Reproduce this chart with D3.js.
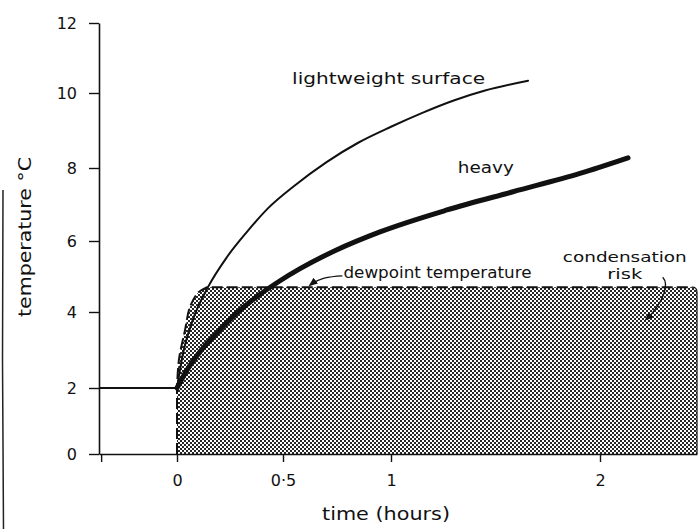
<!DOCTYPE html>
<html>
<head>
<meta charset="utf-8">
<script src="https://cdn.jsdelivr.net/npm/d3@7"></script>
<style>
  html, body { margin: 0; padding: 0; background: #fff; }
  svg { display: block; }
  text { font-family: "DejaVu Sans", "Liberation Sans", sans-serif; fill: #111; }
</style>
</head>
<body>
<svg id="chart" width="699" height="529"></svg>
<script>
// ---- data ----
const timeTicks = [0, 0.5, 1, 2];
const timeTickLabels = ["0", "0·5", "1", "2"];
const tempTicks = [0, 2, 4, 6, 8, 10, 12];
const tempTickLabels = ["0", "2", "4", "6", "8", "10", "12"];

// steady state before the change (time < 0)
const preTime = [-0.368, 0];
const preTemp = [2, 2];

// lightweight surface
const lightTime = [0, 0.028, 0.075, 0.146, 0.236, 0.33, 0.43, 0.55, 0.70, 0.85, 1.0, 1.15, 1.3, 1.45, 1.656];
const lightTemp = [2, 2.9, 3.8, 4.7, 5.55, 6.25, 6.9, 7.5, 8.15, 8.68, 9.1, 9.47, 9.8, 10.07, 10.35];

// heavy surface
const heavyTime = [0, 0.047, 0.108, 0.189, 0.264, 0.344, 0.486, 0.579, 0.745, 0.949, 1.268, 1.584, 1.904, 2.134];
const heavyTemp = [2, 2.47, 2.95, 3.45, 3.88, 4.28, 4.88, 5.22, 5.74, 6.25, 6.85, 7.35, 7.85, 8.27];

// dewpoint temperature and the left edge of the condensation-risk zone
const dewpoint = 4.70;
const dewEdgeTime = [0, 0.009, 0.038, 0.061, 0.099, 0.142];
const dewEdgeTemp = [2, 2.74, 3.53, 4.14, 4.54, 4.70];

const timeMin = -0.368, timeMax = 2.464;

// ---- scales (hand-drawn axis: piecewise linear through tick positions) ----
const x = d3.scaleLinear()
  .domain([timeMin, 0, 0.5, 1, 2, timeMax])
  .range([99, 177, 283, 391, 600, 697]);
const y = d3.scaleLinear()
  .domain(tempTicks)
  .range([454, 388, 312, 241, 168, 93, 23]);

const svg = d3.select("#chart");
const ink = "#111";

// defs: halftone pattern and arrowhead
const defs = svg.append("defs");
const pat = defs.append("pattern")
  .attr("id", "dots").attr("patternUnits", "userSpaceOnUse")
  .attr("width", 4).attr("height", 4);
pat.append("rect").attr("width", 4).attr("height", 4).attr("fill", "#fff");
pat.append("rect").attr("x", 0).attr("y", 0).attr("width", 2).attr("height", 2).attr("fill", "#262626");
pat.append("rect").attr("x", 2).attr("y", 2).attr("width", 2).attr("height", 2).attr("fill", "#262626");

defs.append("marker")
  .attr("id", "arrow").attr("viewBox", "0 0 10 10")
  .attr("refX", 8).attr("refY", 5)
  .attr("markerWidth", 7).attr("markerHeight", 7)
  .attr("orient", "auto-start-reverse")
  .append("path").attr("d", "M0,1 L10,5 L0,9 Z").attr("fill", ink);

// scan border on the left
svg.append("path")
  .attr("d", "M3,190 L2.5,360 L3.5,529")
  .attr("fill", "none").attr("stroke", "#222").attr("stroke-width", 1.5);

// ---- condensation risk zone ----
const edgePts = dewEdgeTime.map((t, i) => [x(t), y(dewEdgeTemp[i])]);
const edgePath = d3.line().curve(d3.curveCatmullRom)(edgePts);
const xr = x(timeMax), yd = y(dewpoint);
const zone = `M${x(0)},${y(0)}L` + edgePath.slice(1) +
  `L${xr - 5},${yd}Q${xr},${yd} ${xr},${yd + 5}L${xr},${y(0)}Z`;
svg.append("path").attr("d", zone).attr("fill", "url(#dots)").attr("stroke", "none");

// dashed outline of the zone
svg.append("path")
  .attr("d", `M${x(0)},${y(0)}L` + edgePath.slice(1) + `L${xr - 5},${yd}`)
  .attr("fill", "none").attr("stroke", ink).attr("stroke-width", 2)
  .attr("stroke-dasharray", "11,4");
svg.append("path")
  .attr("d", `M${xr - 5},${yd}Q${xr},${yd} ${xr},${yd + 5}L${xr},${y(0)}`)
  .attr("fill", "none").attr("stroke", ink).attr("stroke-width", 1.2);

// ---- axes ----
const yAxis = d3.axisLeft(y).tickValues(tempTicks)
  .tickFormat((d, i) => tempTickLabels[i])
  .tickSize(10).tickSizeOuter(0).tickPadding(12);
const gy = svg.append("g").attr("transform", `translate(${x(timeMin)},0)`).call(yAxis);

const xTickVals = [timeMin + 0.01].concat(timeTicks);
const xAxis = d3.axisBottom(x).tickValues(xTickVals)
  .tickFormat((d, i) => i === 0 ? "" : timeTickLabels[i - 1])
  .tickSize(8).tickSizeOuter(0).tickPadding(13);
const gx = svg.append("g").attr("transform", `translate(0,${y(0)})`).call(xAxis);

[gx, gy].forEach(g => {
  g.selectAll("path.domain").attr("stroke", ink).attr("stroke-width", 1.6);
  g.selectAll(".tick line").attr("stroke", ink).attr("stroke-width", 1.4);
  g.selectAll(".tick text").attr("fill", ink)
    .style("font-family", '"DejaVu Sans", sans-serif').style("font-size", "16px");
});

// axis titles
svg.append("text")
  .attr("x", 386).attr("y", 520)
  .attr("text-anchor", "middle")
  .attr("textLength", 128).attr("lengthAdjust", "spacingAndGlyphs")
  .style("font-size", "17px").text("time (hours)");
svg.append("text")
  .attr("transform", `translate(31,237) rotate(-90)`)
  .attr("text-anchor", "middle")
  .attr("textLength", 160).attr("lengthAdjust", "spacingAndGlyphs")
  .style("font-size", "17px").text("temperature °C");

// ---- curves ----
const line = d3.line().x(d => x(d[0])).y(d => y(d[1])).curve(d3.curveMonotoneX);
svg.append("path")
  .attr("d", line(preTime.map((t, i) => [t, preTemp[i]])))
  .attr("fill", "none").attr("stroke", ink).attr("stroke-width", 2);
svg.append("path")
  .attr("d", line(lightTime.map((t, i) => [t, lightTemp[i]])))
  .attr("fill", "none").attr("stroke", ink).attr("stroke-width", 2)
  .attr("stroke-linecap", "round");
svg.append("path")
  .attr("d", line(heavyTime.map((t, i) => [t, heavyTemp[i]])))
  .attr("fill", "none").attr("stroke", ink).attr("stroke-width", 5)
  .attr("stroke-linecap", "round");

// ---- annotations ----
function label(t, v, txt, len, size) {
  svg.append("text").attr("x", x(t)).attr("y", y(v))
    .attr("textLength", len).attr("lengthAdjust", "spacingAndGlyphs")
    .style("font-size", size + "px").text(txt);
}
label(0.542, 10.26, "lightweight surface", 193, 16);
label(1.32, 7.86, "heavy", 56, 16);
label(0.78, 4.97, "dewpoint temperature", 188, 15);
label(1.822, 5.42, "condensation", 124, 14);
label(2.035, 4.92, "risk", 35, 14);

// leader: dewpoint label -> dashed line
svg.append("path")
  .attr("d", `M${x(0.775)},${y(5.02)} C${x(0.71)},${y(5.0)} ${x(0.665)},${y(4.95)} ${x(0.625)},${y(4.76)}`)
  .attr("fill", "none").attr("stroke", ink).attr("stroke-width", 1.3)
  .attr("marker-end", "url(#arrow)");
// leader: risk label -> shaded zone
svg.append("path")
  .attr("d", `M${x(2.3)},${y(4.98)} C${x(2.33)},${y(4.8)} ${x(2.31)},${y(4.3)} ${x(2.22)},${y(3.8)}`)
  .attr("fill", "none").attr("stroke", ink).attr("stroke-width", 1.3)
  .attr("marker-end", "url(#arrow)");
</script>
</body>
</html>
